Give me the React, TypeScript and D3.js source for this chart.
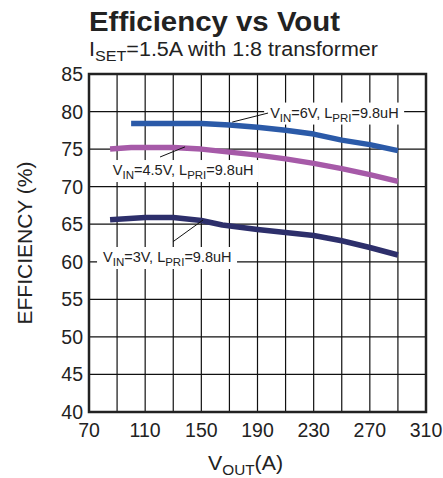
import React from "react";
import * as d3 from "d3";

const xTicks = [70, 110, 150, 190, 230, 270, 310];
const xGrid = [70, 90, 110, 130, 150, 170, 190, 210, 230, 250, 270, 290, 310];
const yTicks = [40, 45, 50, 55, 60, 65, 70, 75, 80, 85];

const v6X = [100, 150, 170, 190, 210, 230, 250, 270, 290];
const v6Y = [78.4, 78.4, 78.2, 77.9, 77.5, 77.0, 76.2, 75.6, 74.8];
const v45X = [85, 100, 130, 150, 170, 190, 210, 230, 250, 270, 290];
const v45Y = [75.0, 75.2, 75.2, 75.0, 74.6, 74.2, 73.7, 73.1, 72.4, 71.6, 70.7];
const v3X = [85, 110, 130, 150, 165, 190, 210, 230, 250, 270, 290];
const v3Y = [65.6, 65.9, 65.9, 65.5, 64.9, 64.3, 63.9, 63.5, 62.8, 61.9, 60.9];

const seriesColors = ["#2b5aa8", "#a65aa8", "#2d2f6b"];

// annotation positions in data units
const annotations = [
  { vin: "6V", tx: 199, ty: 79.2, lx1: 172, ly1: 78.6, lx2: 197.5, ly2: 79.8, w: 140 },
  { vin: "4.5V", tx: 87, ty: 71.55, lx1: 120.6, ly1: 73.95, lx2: 138.4, ly2: 75.3, w: 152 },
  { vin: "3V", tx: 80, ty: 59.97, lx1: 129.8, ly1: 62.67, lx2: 151.2, ly2: 65.56, w: 140 },
];

const W = 443;
const H = 478;
const L = 89, R = 426, T = 74, B = 412;
const FONT = "'Liberation Sans', Arial, Helvetica, sans-serif";

export default function App() {
  const x = d3.scaleLinear().domain([70, 310]).range([L, R]);
  const y = d3.scaleLinear().domain([40, 85]).range([B, T]);
  const line = d3
    .line<[number, number]>()
    .x((d) => x(d[0]))
    .y((d) => y(d[1]));
  const series = [
    v6X.map((v, i) => [v, v6Y[i]] as [number, number]),
    v45X.map((v, i) => [v, v45Y[i]] as [number, number]),
    v3X.map((v, i) => [v, v3Y[i]] as [number, number]),
  ];

  return (
    <svg
      width={W}
      height={H}
      style={{ position: "absolute", left: 0, top: 0, background: "#fff" }}
      fontFamily={FONT}
    >
      <rect x={0} y={0} width={W} height={H} fill="#fff" />
      {xGrid.map((v) => (
        <line key={"gx" + v} x1={x(v)} x2={x(v)} y1={T} y2={B} stroke="#111" strokeWidth={1.2} />
      ))}
      {yTicks.map((v) => (
        <line key={"gy" + v} x1={L} x2={R} y1={y(v)} y2={y(v)} stroke="#111" strokeWidth={1.2} />
      ))}
      {annotations.map((a, i) => (
        <rect
          key={"bg" + i}
          x={x(a.tx) - 6}
          y={y(a.ty) - 15}
          width={a.w}
          height={22}
          fill="#fff"
        />
      ))}
      {series.map((s, i) => (
        <path
          key={"s" + i}
          d={line(s) || ""}
          fill="none"
          stroke={seriesColors[i]}
          strokeWidth={5.5}
          strokeLinejoin="round"
        />
      ))}
      {annotations.map((a, i) => (
        <g key={"a" + i}>
          <line
            x1={x(a.lx1)}
            y1={y(a.ly1)}
            x2={x(a.lx2)}
            y2={y(a.ly2)}
            stroke="#111"
            strokeWidth={1}
          />
          <text x={x(a.tx)} y={y(a.ty)} fontSize={14.5} fill="#222">
            V<tspan fontSize={11.5} dy={4}>IN</tspan>
            <tspan dy={-4}>={a.vin}, L</tspan>
            <tspan fontSize={11.5} dy={4}>PRI</tspan>
            <tspan dy={-4}>=9.8uH</tspan>
          </text>
        </g>
      ))}
      <rect x={L} y={T} width={R - L} height={B - T} fill="none" stroke="#222" strokeWidth={2.5} />
      {yTicks.map((v) => (
        <text key={"yt" + v} x={L - 6} y={y(v) + 7} fontSize={19.5} textAnchor="end" fill="#222">
          {v}
        </text>
      ))}
      {xTicks.map((v) => (
        <text key={"xt" + v} x={x(v)} y={B + 25} fontSize={19.5} textAnchor="middle" fill="#222">
          {v}
        </text>
      ))}
      <text x={208} y={470} fontSize={19.5} fill="#222" textLength={75} lengthAdjust="spacingAndGlyphs">
        V<tspan fontSize={14} dy={5}>OUT</tspan>
        <tspan dy={-5}>(A)</tspan>
      </text>
      <text
        transform={`translate(32, ${(T + B) / 2}) rotate(-90)`}
        fontSize={19.5}
        textAnchor="middle"
        fill="#222"
        textLength={163}
        lengthAdjust="spacingAndGlyphs"
      >
        EFFICIENCY (%)
      </text>
      <text
        x={L}
        y={31}
        fontSize={27.5}
        fontWeight="bold"
        fill="#222"
        textLength={251}
        lengthAdjust="spacingAndGlyphs"
      >
        Efficiency vs Vout
      </text>
      <text x={L} y={56} fontSize={20} fill="#222" textLength={289} lengthAdjust="spacingAndGlyphs">
        I<tspan fontSize={15} dy={5}>SET</tspan>
        <tspan dy={-5}>=1.5A with 1:8 transformer</tspan>
      </text>
    </svg>
  );
}
